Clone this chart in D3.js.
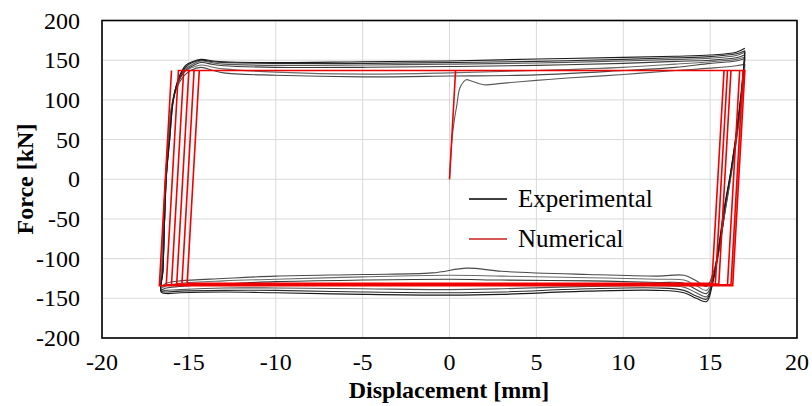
<!DOCTYPE html>
<html>
<head>
<meta charset="UTF-8">
</head>
<body style="margin:0; background:#fff">
<svg width="812" height="406"></svg>
<script src="https://d3js.org/d3.v7.min.js"></script>
<script>

let width = 812,
    height = 406;

let fontFam = "Liberation Serif, Times New Roman, serif";

// ticks
let xTicks = [-20, -15, -10, -5, 0, 5, 10, 15, 20];
let yTicks = [-200, -150, -100, -50, 0, 50, 100, 150, 200];

// experimental: initial loading, then right branch / bottom / left branch / top per cycle
let expInit = [[0,0],[0.05,20],[0.14,50],[0.28,75],[0.42,93],[0.58,114],[0.8,122.5],[0.96,125.4],[1.3,123.5],[1.97,119],[3,120.8],[5,124.6],[6.8,127.5],[10,132],[13,137],[15,140],[16.5,143]];

let expRight = [
  [[17.0,145],[16.9,118],[16.6,62],[16.2,4],[15.9,-36],[15.5,-88],[15.2,-116]],
  [[17.0,152],[16.9,124],[16.6,66],[16.2,6],[15.9,-34],[15.5,-90],[15.2,-120]],
  [[17.0,154],[16.9,126],[16.6,68],[16.2,8],[15.9,-33],[15.5,-92],[15.2,-124]],
  [[17.0,157],[16.9,128],[16.6,70],[16.2,9],[15.85,-38],[15.45,-95],[15.15,-128]],
  [[17.0,160],[16.9,131],[16.6,72],[16.2,10],[15.8,-40],[15.4,-98],[15.1,-132]],
  [[17.0,162],[16.9,134],[16.6,74],[16.2,12],[15.8,-38],[15.4,-100],[15.1,-136]]
];

let expBottom = [
  [[14.8,-135],[14.2,-128],[13.5,-121],[12,-122],[8,-120],[3,-116],[1,-112],[-1,-118],[-5,-120],[-10,-122],[-13,-125],[-15.5,-128],[-16.3,-131],[-16.6,-135]],
  [[14.8,-140],[14.2,-134],[13.5,-127],[12,-126],[8,-124],[3,-122],[0,-121],[-5,-123],[-10,-126],[-13,-128],[-15.5,-131],[-16.3,-134],[-16.6,-137]],
  [[14.8,-144],[14.2,-139],[13.5,-131],[12,-130],[8,-128],[3,-127],[0,-126],[-5,-127],[-10,-129],[-13,-132],[-15.5,-135],[-16.3,-137],[-16.6,-139]],
  [[14.8,-148],[14.2,-143],[13.5,-136],[12,-134],[8,-135],[3,-138],[0,-139],[-5,-138],[-10,-137],[-13,-137],[-15.5,-139],[-16.3,-140],[-16.6,-140]],
  [[14.8,-151],[14.2,-147],[13.5,-140],[12,-137],[8,-138],[3,-142],[0,-143],[-5,-142],[-10,-140],[-13,-140],[-15.5,-141],[-16.3,-142],[-16.6,-141]],
  [[14.8,-154],[14.2,-150],[13.5,-143],[12,-140],[8,-141],[3,-145],[0,-146],[-5,-145],[-10,-143],[-13,-142],[-15.5,-143],[-16.3,-144],[-16.6,-142]]
];

let expLeft = [
  [[-16.55,-110],[-16.45,-50],[-16.35,0],[-16.2,45],[-16.0,90],[-15.7,115],[-15.3,130],[-14.9,137]],
  [[-16.55,-112],[-16.45,-51],[-16.35,1],[-16.2,46],[-16.0,92],[-15.7,118],[-15.3,134],[-14.9,140]],
  [[-16.5,-113],[-16.4,-50],[-16.3,1],[-16.15,47],[-15.95,94],[-15.65,120],[-15.25,136],[-14.85,142]],
  [[-16.5,-115],[-16.4,-50],[-16.3,2],[-16.15,48],[-15.95,95],[-15.65,122],[-15.25,138],[-14.85,144]],
  [[-16.5,-116],[-16.4,-52],[-16.3,3],[-16.1,50],[-15.9,98],[-15.6,125],[-15.2,141],[-14.8,147]],
  [[-16.5,-118],[-16.4,-53],[-16.3,4],[-16.1,52],[-15.9,100],[-15.6,127],[-15.2,143],[-14.8,148]]
];

let expTop = [
  [[-14.3,141],[-13.6,137],[-13,134],[-10,131],[-5,129],[0,130],[5,131.5],[10,137],[13,141],[15,146],[16.5,149]],
  [[-14.3,144],[-13.6,141],[-13,139],[-10,135],[-5,132.5],[0,134],[5,137],[10,141],[13,145],[15,148],[16.5,151]],
  [[-14.3,147],[-13.6,144.5],[-13,143],[-10,141],[-5,141],[0,142],[5,143.5],[10,146],[13,148.5],[15,150],[16.5,153]],
  [[-14.3,149],[-13.6,146.5],[-13,145],[-10,143.5],[-5,144],[0,145],[5,146.5],[10,149],[13,151],[15,152.5],[16.5,156]],
  [[-14.3,150],[-13.6,148],[-13,147],[-10,146],[-5,146],[0,147],[5,148.5],[10,151],[13,153],[15,154.5],[16.5,158]],
  [[-14.3,151],[-13.6,149],[-13,148],[-10,147],[-5,148],[0,149],[5,151.5],[10,153.5],[13,155],[15,156.5],[16.5,160],[17.0,165]]
];

// numerical (bilinear) path
let numPath = [[0,0],[0.35,137],[15.8,137],[15.1,-131],[-15.1,-131],[-14.4,137],[16.0,137],[15.3,-132],[-15.4,-132],[-14.7,137],[16.2,137],[15.5,-132],[-15.7,-132],[-15.0,137],[16.7,137],[16.0,-133],[-16.0,-133],[-15.3,137],[16.9,137],[16.2,-133],[-16.3,-133],[-15.6,137],[17.0,137],[16.3,-134],[-16.7,-134],[-16.0,137]];

let legendItems = ["Experimental", "Numerical"];

let svg = d3.select("svg");

svg.append("rect").attr("width", width).attr("height", height).attr("fill", "#fff");

let x = d3.scaleLinear().domain([-20, 20]).range([102, 797]);
let y = d3.scaleLinear().domain([-200, 200]).range([338, 20.5]);

// grid
svg.append("g")
    .selectAll("line")
    .data(xTicks)
    .enter().append("line")
    .attr("x1", d => x(d)).attr("x2", d => x(d))
    .attr("y1", y(-200)).attr("y2", y(200))
    .attr("stroke", "#d9d9d9").attr("stroke-width", 1);

svg.append("g")
    .selectAll("line")
    .data(yTicks)
    .enter().append("line")
    .attr("x1", x(-20)).attr("x2", x(20))
    .attr("y1", d => y(d)).attr("y2", d => y(d))
    .attr("stroke", "#d9d9d9").attr("stroke-width", 1);

// experimental curves
let expLine = d3.line()
    .x(d => x(d[0]))
    .y(d => y(d[1]))
    .curve(d3.curveCatmullRom.alpha(0.5));

let segments = [];
segments.push(expInit.concat([expRight[0][0]]));
for (let i = 0; i < 6; i++) {
  let seg = expRight[i].concat(expBottom[i], expLeft[i], expTop[i]);
  if (i < 5) seg = seg.concat([expRight[i + 1][0]]);
  segments.push(seg);
}
let greys = ["#5a5a5a", "#4a4a4a", "#6a6a6a", "#3a3a3a", "#555", "#2a2a2a", "#1a1a1a"];

svg.append("g")
    .selectAll("path")
    .data(segments)
    .enter().append("path")
    .attr("d", expLine)
    .attr("fill", "none")
    .attr("stroke", (d, i) => greys[i])
    .attr("stroke-width", 1.1);

// numerical
let numLine = d3.line()
    .x(d => x(d[0]))
    .y(d => y(d[1]));

svg.append("path")
    .datum(numPath)
    .attr("d", numLine)
    .attr("fill", "none")
    .attr("stroke", "#f00000")
    .attr("stroke-width", 1.6);

// frame
svg.append("rect")
    .attr("x", x(-20)).attr("y", y(200))
    .attr("width", x(20) - x(-20)).attr("height", y(-200) - y(200))
    .attr("fill", "none").attr("stroke", "#000").attr("stroke-width", 1.6);

// tick labels, placed from the scales
svg.append("g")
    .selectAll("text")
    .data(xTicks)
    .enter().append("text")
    .attr("x", d => x(d))
    .attr("y", 370)
    .attr("text-anchor", "middle")
    .attr("font-family", fontFam)
    .attr("font-size", 24)
    .text(d => String(d));

svg.append("g")
    .selectAll("text")
    .data(yTicks)
    .enter().append("text")
    .attr("x", 80)
    .attr("y", d => y(d) + 8)
    .attr("text-anchor", "end")
    .attr("font-family", fontFam)
    .attr("font-size", 24)
    .text(d => String(d));

// axis titles
svg.append("text")
    .attr("x", 449).attr("y", 398)
    .attr("text-anchor", "middle")
    .attr("font-family", fontFam)
    .attr("font-size", 24).attr("font-weight", "bold")
    .text("Displacement [mm]");

svg.append("text")
    .attr("transform", "translate(33,179) rotate(-90)")
    .attr("text-anchor", "middle")
    .attr("font-family", fontFam)
    .attr("font-size", 24).attr("font-weight", "bold")
    .text("Force [kN]");

// legend
let legendColour = ["#000", "#c8201e"];
let legend = svg.selectAll("g.legend")
    .data(legendItems)
    .enter().append("g")
    .attr("class", "legend")
    .attr("transform", (d, i) => "translate(469," + (199 + i * 40) + ")");

legend.append("line")
    .attr("x1", 0).attr("x2", 38)
    .attr("stroke", (d, i) => legendColour[i])
    .attr("stroke-width", 1.5);

legend.append("text")
    .attr("x", 49).attr("y", 7.5)
    .attr("font-family", fontFam)
    .attr("font-size", 25)
    .text(d => d);

</script>
</body>
</html>
